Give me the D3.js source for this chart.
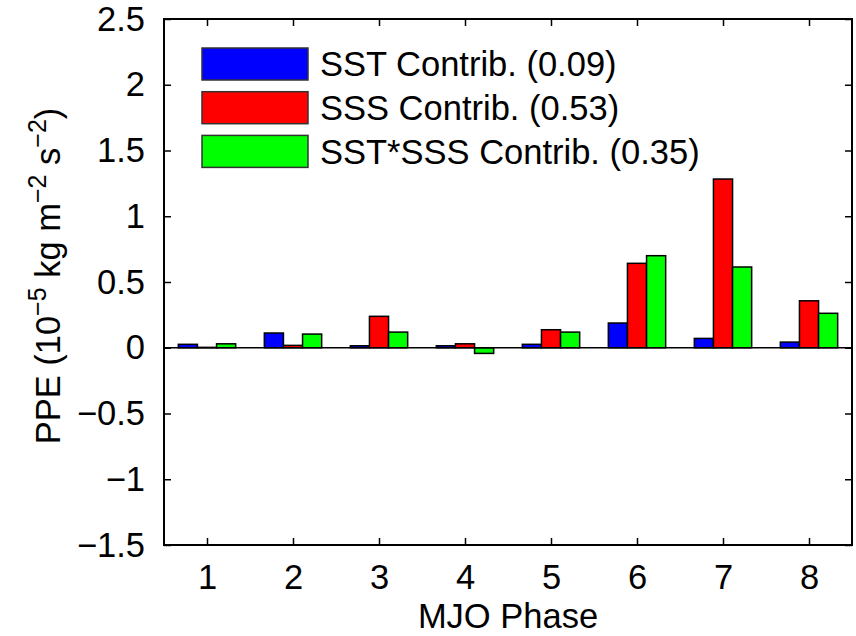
<!DOCTYPE html>
<html>
<head>
<meta charset="utf-8">
<script src="https://cdn.jsdelivr.net/npm/d3@7"></script>
<style>
  body { margin: 0; background: #fff; }
  svg text { font-family: "Liberation Sans", Arial, Helvetica, sans-serif; fill: #000; }
</style>
</head>
<body>
<svg id="chart" width="856" height="636"></svg>
<script>
// MJO phases on the x axis
var phases = [1, 2, 3, 4, 5, 6, 7, 8];

// PPE contributions (10^-5 kg m^-2 s^-2)
var sstContrib    = [0.026, 0.112, 0.015, 0.015, 0.026, 0.188, 0.071, 0.043];
var sssContrib    = [0.003, 0.018, 0.239, 0.030, 0.137, 0.642, 1.283, 0.357];
var sstSssContrib = [0.030, 0.104, 0.119, -0.043, 0.119, 0.700, 0.614, 0.262];

var seriesNames  = ["SST Contrib. (0.09)", "SSS Contrib. (0.53)", "SST*SSS Contrib. (0.35)"];
var seriesColors = ["#0000ff", "#ff0000", "#00ff00"];

var yTicks = [-1.5, -1, -0.5, 0, 0.5, 1, 1.5, 2, 2.5];

var svg = d3.select('#chart');
var fontSize = 34.5;

var margin = { left: 164, right: 852, top: 19, bottom: 545 };

var x = d3.scaleLinear().domain([0.5, 8.5]).range([margin.left, margin.right]);
var y = d3.scaleLinear().domain([-1.5, 2.5]).range([margin.bottom, margin.top]);

// matlab style grouped bars: group takes n/(n+1.5) of the slot
var series = [sstContrib, sssContrib, sstSssContrib];
var nSeries = series.length;
var groupWidth = nSeries / (nSeries + 1.5);
var barW = groupWidth / nSeries;

var bars = svg.append('g').attr('class', 'bars');
series.forEach(function(vals, s) {
    bars.selectAll('rect.s' + s)
        .data(vals)
        .enter().append('rect')
        .attr('class', 's' + s)
        .attr('x', function(d, i) { return x(phases[i] - groupWidth / 2 + s * barW); })
        .attr('width', function() { return x(barW) - x(0); })
        .attr('y', function(d) { return y(Math.max(0, d)); })
        .attr('height', function(d) { return Math.abs(y(d) - y(0)); })
        .attr('fill', seriesColors[s])
        .attr('stroke', '#000')
        .attr('stroke-width', 1.5);
});

// baseline at zero
svg.append('line')
    .attr('x1', margin.left).attr('x2', margin.right)
    .attr('y1', y(0)).attr('y2', y(0))
    .attr('stroke', '#000').attr('stroke-width', 1.5);

// axes, ticks pointing inward, mirrored on the opposite sides
function styleAxis(g) {
    g.select('.domain').remove();
    g.selectAll('.tick line').attr('stroke', '#000').attr('stroke-width', 1.5);
    g.selectAll('.tick text').style('font-size', fontSize + 'px');
}

var fmt = function(d) { return String(d).replace('-', '\u2212'); };

svg.append('g')
    .attr('transform', 'translate(0,' + margin.bottom + ')')
    .call(d3.axisBottom(x).tickValues(phases).tickSizeInner(-7).tickPadding(20).tickFormat(d3.format('d')))
    .call(styleAxis);
svg.append('g')
    .attr('transform', 'translate(0,' + margin.top + ')')
    .call(d3.axisTop(x).tickValues(phases).tickSizeInner(-7).tickFormat(''))
    .call(styleAxis);
svg.append('g')
    .attr('transform', 'translate(' + margin.left + ',0)')
    .call(d3.axisLeft(y).tickValues(yTicks).tickSizeInner(-7).tickPadding(19).tickFormat(fmt))
    .call(styleAxis);
svg.append('g')
    .attr('transform', 'translate(' + margin.right + ',0)')
    .call(d3.axisRight(y).tickValues(yTicks).tickSizeInner(-7).tickFormat(''))
    .call(styleAxis);

// frame
svg.append('rect')
    .attr('x', margin.left).attr('y', margin.top)
    .attr('width', margin.right - margin.left).attr('height', margin.bottom - margin.top)
    .attr('fill', 'none').attr('stroke', '#000').attr('stroke-width', 2);

// axis labels
svg.append('text')
    .attr('x', (margin.left + margin.right) / 2).attr('y', 628)
    .attr('text-anchor', 'middle')
    .style('font-size', fontSize + 'px')
    .text('MJO Phase');

var ylab = svg.append('text')
    .attr('transform', 'translate(60,' + ((margin.top + margin.bottom) / 2 - 6) + ') rotate(-90)')
    .attr('text-anchor', 'middle')
    .style('font-size', fontSize + 'px');
ylab.append('tspan').text('PPE (10');
ylab.append('tspan').attr('dy', -14).style('font-size', '25px').text('\u22125');
ylab.append('tspan').attr('dy', 14).text(' kg m');
ylab.append('tspan').attr('dy', -14).style('font-size', '25px').text('\u22122');
ylab.append('tspan').attr('dy', 14).text(' s');
ylab.append('tspan').attr('dy', -14).style('font-size', '25px').text('\u22122');
ylab.append('tspan').attr('dy', 14).text(')');

// legend
var legend = svg.append('g').attr('class', 'legend');
var rows = legend.selectAll('g').data(seriesNames).enter().append('g')
    .attr('transform', function(d, i) { return 'translate(202,' + (48 + i * 43.7) + ')'; });
rows.append('rect')
    .attr('width', 106).attr('height', 32)
    .attr('fill', function(d, i) { return seriesColors[i]; })
    .attr('stroke', '#333').attr('stroke-width', 1.5);
rows.append('text')
    .attr('x', 118).attr('y', 16).attr('dy', '0.36em')
    .style('font-size', fontSize + 'px')
    .text(function(d) { return d; });
</script>
</body>
</html>
